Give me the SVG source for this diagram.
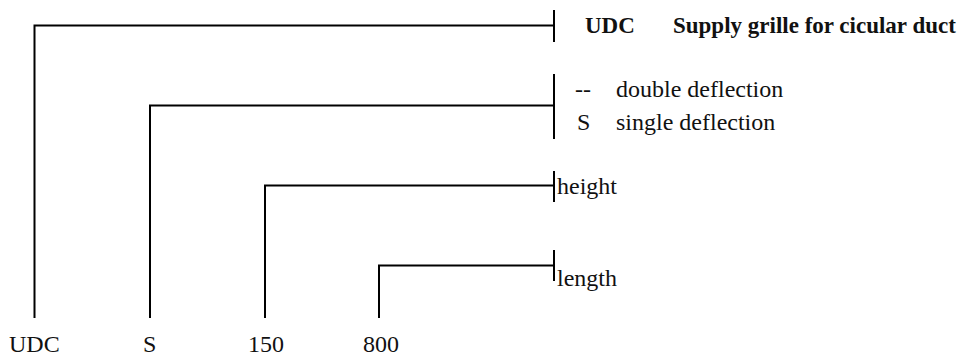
<svg xmlns="http://www.w3.org/2000/svg" width="964" height="356" viewBox="0 0 964 356">
<style>
.ln{fill:none;stroke:#000;stroke-width:2}
text{font-family:"Liberation Serif","Times New Roman",serif;font-size:24px;fill:#111}
.b{font-weight:bold;font-size:23px}
</style>
<rect width="964" height="356" fill="#fff"/>
<g id="connectors">
<path class="ln" d="M34.5,318 V25.5 H554"/>
<path class="ln" d="M554,10 V42"/>
<path class="ln" d="M150,318 V105.5 H554"/>
<path class="ln" d="M554,74 V139"/>
<path class="ln" d="M265,318 V185.5 H554"/>
<path class="ln" d="M554,171 V202"/>
<path class="ln" d="M379,318 V265.5 H554"/>
<path class="ln" d="M554,250 V281"/>
</g>
<g id="udc"><text x="9" y="352">UDC</text><text class="b" x="585" y="33">UDC</text><text class="b" x="673" y="33">Supply grille for cicular duct</text></g>
<g id="s"><text x="143" y="352">S</text><text x="575" y="97">--</text><text x="616" y="97">double deflection</text><text x="577" y="130">S</text><text x="616" y="130">single deflection</text></g>
<g id="h"><text x="248" y="352">150</text><text x="557" y="194">height</text></g>
<g id="l"><text x="363" y="352">800</text><text x="557" y="286">length</text></g>
</svg>
